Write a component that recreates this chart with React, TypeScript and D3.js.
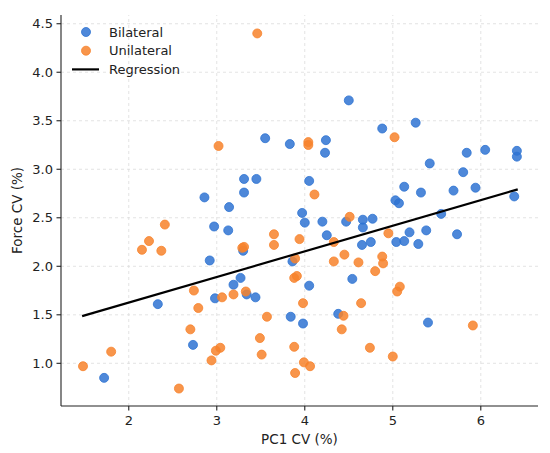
import * as d3 from "d3";

// Bilateral points: PC1 CV (%) vs Force CV (%)
const bilateralPC1 = [
  1.72, 2.33, 2.73, 2.97, 3.13, 2.92, 2.98, 2.86, 3.14, 3.31, 3.45, 3.31, 3.55,
  3.3, 3.27, 3.19, 3.34, 3.44, 3.83, 4.24, 4.23, 4.5, 4.88, 5.26, 5.42, 5.84,
  6.05, 6.41, 6.41, 5.8, 4.05, 5.13, 5.32, 5.69, 5.94, 6.38, 5.03, 5.07, 3.97,
  4.0, 4.2, 4.47, 4.66, 4.77, 4.66, 5.55, 4.25, 4.65, 4.75, 5.04, 5.13, 5.19,
  5.29, 5.38, 5.73, 3.86, 4.05, 4.54, 3.84, 3.98, 4.38, 5.4,
];
const bilateralForce = [
  0.85, 1.61, 1.19, 2.41, 2.37, 2.06, 1.67, 2.71, 2.61, 2.9, 2.9, 2.76, 3.32,
  2.16, 1.88, 1.81, 1.71, 1.68, 3.26, 3.3, 3.17, 3.71, 3.42, 3.48, 3.06, 3.17,
  3.2, 3.19, 3.13, 2.97, 2.88, 2.82, 2.76, 2.78, 2.81, 2.72, 2.68, 2.65, 2.55,
  2.45, 2.46, 2.46, 2.48, 2.49, 2.4, 2.54, 2.32, 2.22, 2.25, 2.25, 2.26, 2.35,
  2.23, 2.37, 2.33, 2.05, 1.8, 1.87, 1.48, 1.41, 1.51, 1.42,
];

// Unilateral points
const unilateralPC1 = [
  3.46, 3.02, 2.41, 2.23, 2.15, 2.37, 3.29, 3.31, 3.65, 3.65, 2.74, 2.79, 3.06,
  3.19, 3.33, 3.57, 2.7, 3.49, 1.8, 1.48, 2.99, 3.04, 2.94, 3.51, 2.57, 3.94,
  4.33, 4.95, 3.89, 4.45, 4.33, 4.61, 4.88, 4.89, 4.8, 3.88, 3.91, 5.08, 5.05,
  3.98, 4.64, 4.44, 4.42, 5.91, 3.88, 4.74, 5.0, 3.99, 4.06, 3.89, 4.04, 4.04,
  4.11, 5.02, 4.51,
];
const unilateralForce = [
  4.4, 3.24, 2.43, 2.26, 2.17, 2.16, 2.19, 2.2, 2.33, 2.22, 1.75, 1.57, 1.68,
  1.71, 1.74, 1.48, 1.35, 1.26, 1.12, 0.97, 1.13, 1.16, 1.03, 1.09, 0.74, 2.28,
  2.25, 2.34, 2.08, 2.12, 2.05, 2.04, 2.1, 2.03, 1.95, 1.88, 1.9, 1.79, 1.74,
  1.62, 1.62, 1.49, 1.35, 1.39, 1.17, 1.16, 1.07, 1.01, 0.97, 0.9, 3.28, 3.25,
  2.74, 3.33, 2.51,
];

// regression line
const regressionSlope = 0.264;
const regressionIntercept = 1.098;
const regressionRange = [1.47, 6.42];

const xTicks = [2, 3, 4, 5, 6];
const yTicks = [1.0, 1.5, 2.0, 2.5, 3.0, 3.5, 4.0, 4.5];

const legendItems = ["Bilateral", "Unilateral", "Regression"];

const width = 550;
const height = 453;
const margin = { top: 15, right: 12, bottom: 47, left: 61 };
const blue = "#2f73d2";
const orange = "#f7832c";
const font = "DejaVu Sans, sans-serif";

const App = () => {
  const x = d3
    .scaleLinear()
    .domain([1.23, 6.65])
    .range([margin.left, width - margin.right]);
  const y = d3
    .scaleLinear()
    .domain([0.56, 4.59])
    .range([height - margin.bottom, margin.top]);

  const bilateral = bilateralPC1.map((v, i) => [v, bilateralForce[i]]);
  const unilateral = unilateralPC1.map((v, i) => [v, unilateralForce[i]]);

  const line = d3
    .line<number>()
    .x((d) => x(d))
    .y((d) => y(regressionIntercept + regressionSlope * d));

  const x0 = margin.left;
  const x1 = width - margin.right;
  const y0 = height - margin.bottom;
  const y1 = margin.top;

  return (
    <svg
      width={width}
      height={height}
      style={{ position: "absolute", left: 0, top: 0, background: "#fff" }}
      fontFamily={font}
    >
      {/* grid */}
      <g stroke="#dcdcdc" strokeWidth={0.8} strokeDasharray="3,3">
        {xTicks.map((t) => (
          <line key={"gx" + t} x1={x(t)} x2={x(t)} y1={y0} y2={y1} />
        ))}
        {yTicks.map((t) => (
          <line key={"gy" + t} x1={x0} x2={x1} y1={y(t)} y2={y(t)} />
        ))}
      </g>

      {/* points */}
      <g>
        {bilateral.map((d, i) => (
          <circle
            key={"b" + i}
            cx={x(d[0])}
            cy={y(d[1])}
            r={4.5}
            fill={blue}
            fillOpacity={0.85}
            stroke={blue}
            strokeWidth={0.8}
          />
        ))}
        {unilateral.map((d, i) => (
          <circle
            key={"u" + i}
            cx={x(d[0])}
            cy={y(d[1])}
            r={4.5}
            fill={orange}
            fillOpacity={0.85}
            stroke={orange}
            strokeWidth={0.8}
          />
        ))}
      </g>

      <path
        d={line(regressionRange) || ""}
        fill="none"
        stroke="#000"
        strokeWidth={2.2}
      />

      {/* axes */}
      <g stroke="#222" strokeWidth={1.1}>
        <line x1={x0} x2={x0} y1={y0} y2={y1} />
        <line x1={x0} x2={x1} y1={y0} y2={y0} />
        {xTicks.map((t) => (
          <line key={"tx" + t} x1={x(t)} x2={x(t)} y1={y0} y2={y0 + 4.5} />
        ))}
        {yTicks.map((t) => (
          <line key={"ty" + t} x1={x0 - 4.5} x2={x0} y1={y(t)} y2={y(t)} />
        ))}
      </g>
      <g fontSize={13} fill="#222">
        {xTicks.map((t) => (
          <text key={"lx" + t} x={x(t)} y={y0 + 19} textAnchor="middle">
            {t}
          </text>
        ))}
        {yTicks.map((t) => (
          <text
            key={"ly" + t}
            x={x0 - 8}
            y={y(t)}
            textAnchor="end"
            dominantBaseline="central"
          >
            {t.toFixed(1)}
          </text>
        ))}
      </g>
      <text
        x={(x0 + x1) / 2}
        y={y0 + 38}
        textAnchor="middle"
        fontSize={13.5}
        fill="#222"
      >
        PC1 CV (%)
      </text>
      <text
        transform={`translate(22,${(y0 + y1) / 2}) rotate(-90)`}
        textAnchor="middle"
        fontSize={13.5}
        fill="#222"
      >
        Force CV (%)
      </text>

      {/* legend */}
      <g fontSize={13} fill="#222">
        {legendItems.map((name, i) => {
          const ly = 32 + i * 18.7;
          return (
            <g key={name}>
              {i < 2 ? (
                <circle
                  cx={86}
                  cy={ly}
                  r={4.5}
                  fill={i === 0 ? blue : orange}
                  fillOpacity={0.85}
                  stroke={i === 0 ? blue : orange}
                  strokeWidth={0.8}
                />
              ) : (
                <line x1={72} x2={99} y1={ly} y2={ly} stroke="#000" strokeWidth={2.2} />
              )}
              <text x={109} y={ly} dominantBaseline="central">
                {name}
              </text>
            </g>
          );
        })}
      </g>
    </svg>
  );
};

export default App;
